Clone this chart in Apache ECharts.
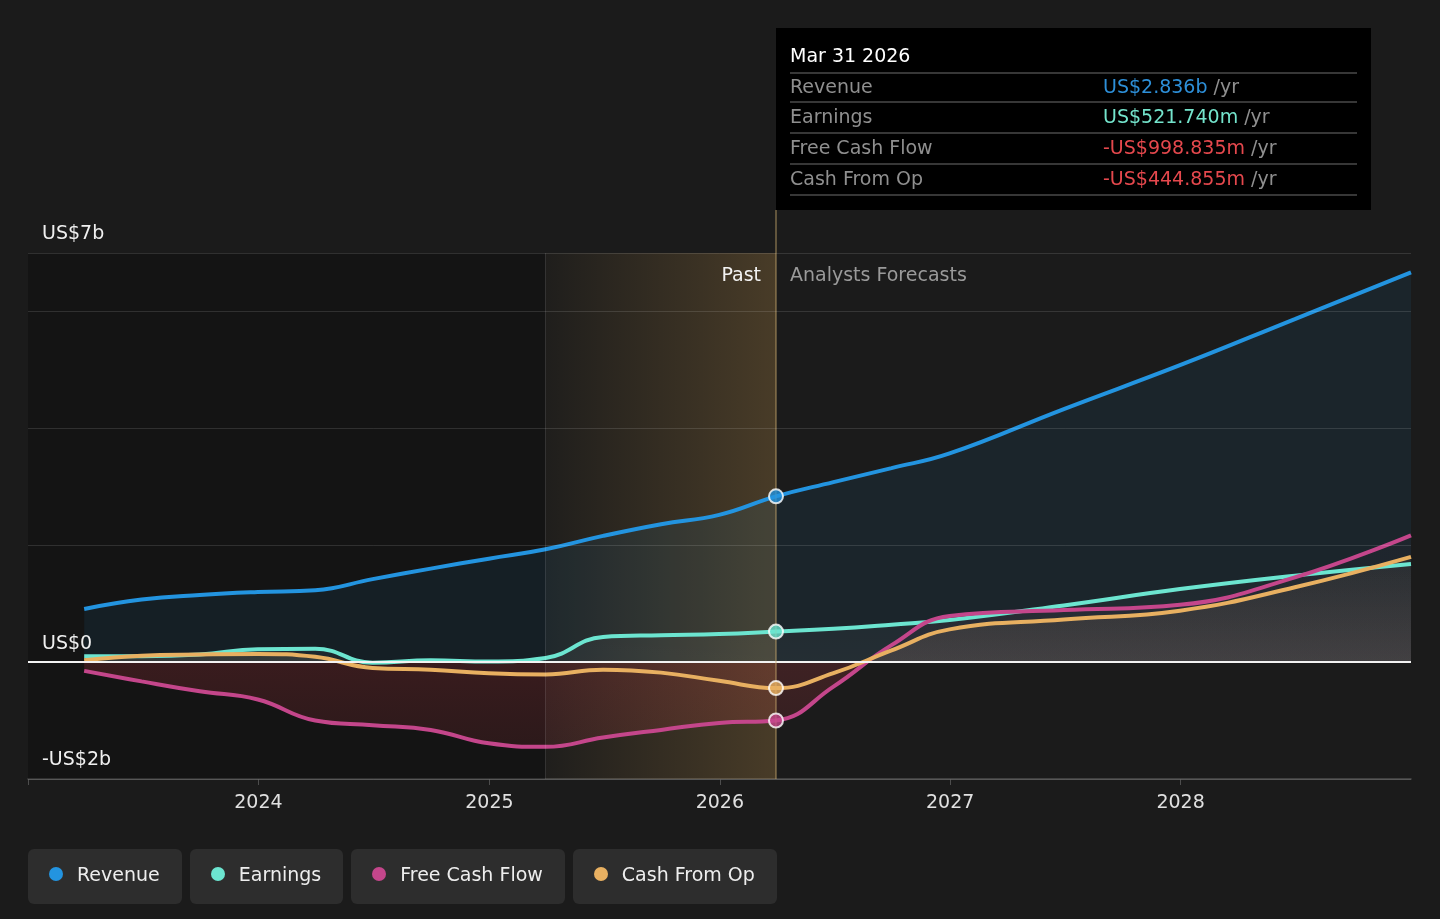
<!DOCTYPE html>
<html>
<head>
<meta charset="utf-8">
<script src="https://cdn.jsdelivr.net/npm/echarts@6/dist/echarts.min.js"></script>
<style>
  html, body { margin: 0; padding: 0; background: #1b1b1b; }
  #chart { width: 1440px; height: 919px; }
  .legend { position: absolute; top: 849px; left: 28px; display: flex; gap: 8px;
    font-family: 'DejaVu Sans', sans-serif; }
  .legend div { height: 55px; box-sizing: border-box; padding: 0 22px 5px 21px; background: #2d2d2d;
    border-radius: 6px; display: flex; align-items: center; color: #eee; font-size: 19px; }
  .legend span { width: 14px; height: 14px; border-radius: 50%; margin-right: 14px; }
</style>
</head>
<body>
<div id="chart"></div>
<div class="legend" id="legend"></div>
<script>
// quarterly history, then analyst forecasts (US$ billions)
var dates = [
  '2023-03-31', '2023-06-30', '2023-09-30', '2023-12-31',
  '2024-03-31', '2024-06-30', '2024-09-30', '2024-12-31',
  '2025-03-31', '2025-06-30', '2025-09-30', '2025-12-31',
  '2026-03-31',
  '2026-06-30', '2026-09-30', '2026-12-31', '2027-06-30',
  '2027-12-31', '2028-06-30', '2028-12-31'
];
var revenue = [0.91, 1.07, 1.15, 1.20, 1.23, 1.42, 1.60, 1.77, 1.93, 2.16, 2.36, 2.52, 2.836,
  3.08, 3.32, 3.57, 4.33, 5.08, 5.87, 6.67];
var earnings = [0.10, 0.10, 0.13, 0.22, 0.23, -0.01, 0.03, 0.01, 0.07, 0.43, 0.46, 0.48, 0.52174,
  0.57, 0.64, 0.72, 0.97, 1.25, 1.48, 1.68];
var freeCashFlow = [-0.15, -0.33, -0.50, -0.64, -1.00, -1.08, -1.16, -1.39, -1.45, -1.29, -1.16, -1.04, -0.998835,
  -0.42, 0.29, 0.79, 0.89, 0.98, 1.45, 2.17];
var cashFromOp = [0.03, 0.11, 0.13, 0.14, 0.09, -0.10, -0.13, -0.19, -0.21, -0.13, -0.18, -0.32, -0.444855,
  -0.19, 0.20, 0.56, 0.73, 0.88, 1.28, 1.80];

var seriesNames = ['Revenue', 'Earnings', 'Free Cash Flow', 'Cash From Op'];
var seriesColors = ['#2394e0', '#6ce5d0', '#c4468b', '#e8b061'];
var valueColors = ['#2d8fd8', '#74e4cc', '#e5484d', '#e5484d'];

var axisStart = '2023-01-01';
var axisEnd = '2028-12-31';
var bandStart = '2025-03-31';
var pastEnd = '2026-03-31';
var tooltipTitle = 'Mar 31 2026';

var yLabelValues = [7, 0, -2];
var yLabelTexts = ['US$7b', 'US$0', '-US$2b'];

var FONT = 'DejaVu Sans';
var YEAR = 365 * 24 * 3600 * 1000;

function pairs(vals) {
  return dates.map(function (d, i) { return [d, vals[i]]; });
}

function money(v) {
  var sign = v < 0 ? '-' : '';
  var a = Math.abs(v);
  return a >= 1 ? sign + 'US$' + a.toFixed(3) + 'b' : sign + 'US$' + (a * 1000).toFixed(3) + 'm';
}

// gradients in page pixels, zero line sits at y = 662
function grad(stops) {
  return new echarts.graphic.LinearGradient(0, 520, 0, 780, stops, true);
}
var z0 = (662 - 520) / 260;

var allValues = [revenue, earnings, freeCashFlow, cashFromOp];
var areaFills = [
  'rgba(35,148,224,0.12)',
  grad([{ offset: 0, color: 'rgba(255,255,255,0)' }, { offset: z0, color: 'rgba(255,255,255,0.06)' },
    { offset: z0 + 0.001, color: 'rgba(255,255,255,0)' }, { offset: 1, color: 'rgba(255,255,255,0)' }]),
  grad([{ offset: 0, color: 'rgba(196,70,139,0.02)' }, { offset: z0, color: 'rgba(196,70,139,0.07)' },
    { offset: z0 + 0.001, color: 'rgba(210,60,70,0.28)' }, { offset: 1, color: 'rgba(210,60,70,0.14)' }]),
  grad([{ offset: 0, color: 'rgba(232,176,97,0.02)' }, { offset: z0, color: 'rgba(240,200,150,0.16)' },
    { offset: z0 + 0.001, color: 'rgba(232,176,97,0)' }, { offset: 1, color: 'rgba(232,176,97,0)' }])
];

var chart = echarts.init(document.getElementById('chart'));

var series = [{
  type: 'line', data: [], z: 1, silent: true,
  markArea: { silent: true, itemStyle: { color: 'rgba(0,0,0,0.25)' },
    data: [[{ xAxis: axisStart }, { xAxis: bandStart }]] }
}];

allValues.forEach(function (vals, i) {
  var s = {
    name: seriesNames[i], type: 'line', data: pairs(vals), z: 2,
    smooth: 0.45, symbol: 'none',
    lineStyle: { color: seriesColors[i], width: 4 },
    areaStyle: { color: areaFills[i], origin: 0 }
  };
  if (i === 0) {
    s.markLine = { silent: true, symbol: 'none', label: { show: false },
      lineStyle: { color: '#f2f2f2', width: 2, type: 'solid' }, data: [{ yAxis: 0 }] };
  }
  series.push(s);
});

series.push({
  type: 'line', data: [], z: 3, silent: true,
  markArea: { silent: true,
    itemStyle: { color: new echarts.graphic.LinearGradient(0, 0, 1, 0, [
      { offset: 0, color: 'rgba(255,190,90,0.02)' }, { offset: 1, color: 'rgba(255,190,90,0.2)' }]) },
    data: [[{ xAxis: bandStart }, { xAxis: pastEnd }]] },
  markLine: { silent: true, symbol: 'none', label: { show: false },
    data: [
      { xAxis: bandStart, lineStyle: { color: 'rgba(255,255,255,0.12)', width: 1, type: 'solid' } },
      { xAxis: pastEnd, lineStyle: { color: 'rgba(200,170,110,0.55)', width: 1.5, type: 'solid' } }
    ] }
});

var nowIndex = dates.indexOf(pastEnd);
series.push({
  type: 'scatter', z: 5, silent: true, symbolSize: 14,
  data: allValues.map(function (vals, i) {
    return { value: [pastEnd, vals[nowIndex]],
      itemStyle: { color: seriesColors[i], borderColor: '#fff', borderWidth: 2 } };
  })
});

chart.setOption({
  backgroundColor: '#1b1b1b',
  animation: false,
  grid: { left: 28, right: 29, top: 253, bottom: 140 },
  xAxis: {
    type: 'time', min: axisStart, max: axisEnd, minInterval: YEAR, maxInterval: YEAR + 86400000,
    axisLine: { onZero: false, lineStyle: { color: '#4d4d4d', width: 1.5 } },
    axisTick: { show: true, length: 6, lineStyle: { color: '#4d4d4d' } },
    splitLine: { show: false },
    axisLabel: { color: '#e0e0e0', fontSize: 19, fontFamily: FONT, margin: 15,
      formatter: function (v) {
        var d = new Date(v);
        var y = d.getFullYear();
        return (d.getMonth() === 0 && y > 2023) ? String(y) : '';
      } }
  },
  yAxis: {
    type: 'value', min: -2, max: 7, interval: 2, z: 10,
    axisLine: { show: false }, axisTick: { show: false },
    splitLine: { lineStyle: { color: 'rgba(255,255,255,0.12)', width: 1 } },
    axisLabel: { inside: true, margin: 14, verticalAlign: 'bottom', padding: [0, 0, 9, 0],
      color: '#f0f0f0', fontSize: 19, fontFamily: FONT,
      formatter: function (v) {
        var k = yLabelValues.indexOf(v);
        return k >= 0 ? yLabelTexts[k] : '';
      } }
  },
  series: series
});

// overlay texts: past / forecast captions and the pinned tooltip box
var px = chart.convertToPixel({ xAxisIndex: 0 }, pastEnd);
var gTop = 253, boxTop = 28, boxLeft = Math.round(px), boxW = 595, boxH = 182;
var graphics = [
  { type: 'line', shape: { x1: px, y1: boxTop + boxH, x2: px, y2: gTop },
    style: { stroke: 'rgba(200,170,110,0.55)', lineWidth: 1.5 }, z: 10 },
  { type: 'text', x: px - 15, y: 276, z: 10,
    style: { text: 'Past', fill: '#f2f2f2', font: '19px ' + FONT, align: 'right', verticalAlign: 'middle' } },
  { type: 'text', x: px + 14, y: 276, z: 10,
    style: { text: 'Analysts Forecasts', fill: '#9a9a9a', font: '19px ' + FONT, verticalAlign: 'middle' } },
  { type: 'rect', shape: { x: boxLeft, y: boxTop, width: boxW, height: boxH }, style: { fill: '#000' }, z: 20 },
  { type: 'text', x: boxLeft + 14, y: 57, z: 21,
    style: { text: tooltipTitle, fill: '#fff', font: '19px ' + FONT, verticalAlign: 'middle' } }
];
var rowY = [88, 118, 149, 180];
var sepY = [73, 102, 133, 164, 195];
sepY.forEach(function (y) {
  graphics.push({ type: 'line', z: 21, shape: { x1: boxLeft + 14, y1: y, x2: boxLeft + boxW - 14, y2: y },
    style: { stroke: '#4a4a4a', lineWidth: 1.5 } });
});
seriesNames.forEach(function (n, i) {
  graphics.push({ type: 'text', x: boxLeft + 14, y: rowY[i], z: 21,
    style: { text: n, fill: '#8f8f8f', font: '19px ' + FONT, verticalAlign: 'middle' } });
  graphics.push({ type: 'text', x: boxLeft + 327, y: rowY[i], z: 21,
    style: { text: '{v|' + money(allValues[i][nowIndex]) + '}{u| /yr}', verticalAlign: 'middle',
      rich: { v: { fill: valueColors[i], font: '19px ' + FONT },
              u: { fill: '#8f8f8f', font: '19px ' + FONT } } } });
});
chart.setOption({ graphic: graphics });

// legend chips
var legend = document.getElementById('legend');
seriesNames.forEach(function (n, i) {
  var chip = document.createElement('div');
  var dot = document.createElement('span');
  dot.style.background = seriesColors[i];
  chip.appendChild(dot);
  chip.appendChild(document.createTextNode(n));
  legend.appendChild(chip);
});
</script>
</body>
</html>
